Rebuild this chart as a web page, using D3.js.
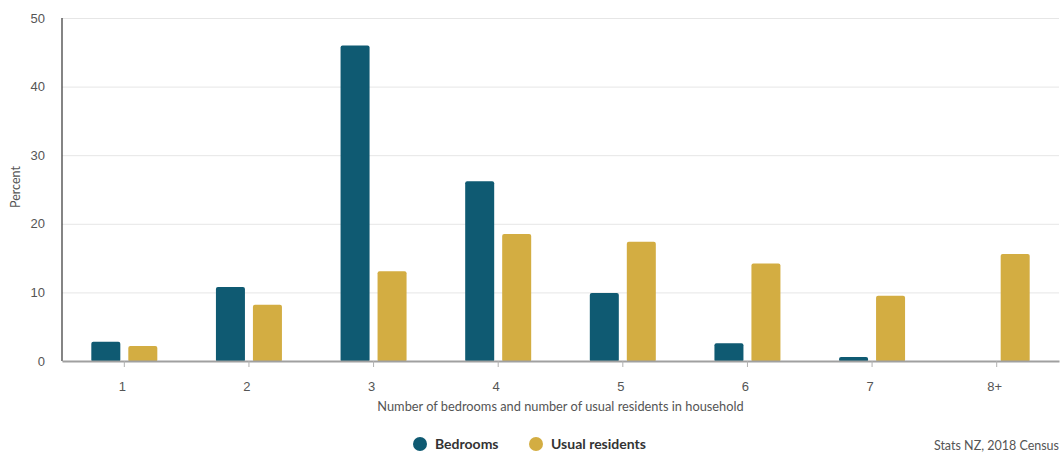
<!DOCTYPE html>
<html>
<head>
<meta charset="utf-8">
<script src="https://cdn.jsdelivr.net/npm/d3@7"></script>
<style>
  body { margin: 0; background: #fff; }
  svg { font-family: Lato, "Open Sans", sans-serif; }
  .grid line { stroke: #e6e6e6; }
  .grid path { display: none; }
  .tick text { fill: #555; }
</style>
</head>
<body>
<svg width="1061" height="454"></svg>
<script>
/*
Data
*/
var categories = ["1", "2", "3", "4", "5", "6", "7", "8+"];
var seriesNames = ["Bedrooms", "Usual residents"];
var bedrooms = [2.8, 10.8, 46.0, 26.2, 9.9, 2.6, 0.6, 0];
var residents = [2.2, 8.2, 13.1, 18.5, 17.4, 14.2, 9.5, 15.6];
var yTicks = [0, 10, 20, 30, 40, 50];
var colors = ["#0f5a72", "#d3ad42"];

var svg = d3.select("svg"),
    margin = {top: 18, right: 2, bottom: 93, left: 62},
    width = svg.attr("width") - margin.left - margin.right,
    height = svg.attr("height") - margin.top - margin.bottom,
    g = svg.append("g").attr("transform", "translate(" + margin.left + "," + margin.top + ")");

var xScale = d3.scaleBand().domain(categories).range([0, width]),
    yScale = d3.scaleLinear().domain([0, 50]).range([height, 0]),
    inner = d3.scaleBand().domain(seriesNames).range([-33, 33]).paddingInner(0.216);

// gridlines
g.append("g")
    .attr("class", "grid")
    .call(d3.axisLeft(yScale).tickValues(yTicks).tickSize(-width).tickFormat(""));

// y axis labels
var yAxis = g.append("g")
    .call(d3.axisLeft(yScale).tickValues(yTicks).tickSize(0).tickPadding(17));
yAxis.select(".domain").remove();
yAxis.selectAll("text").style("font-size", "13px");

// bars
var rows = categories.map(function(c, i) {
    return {cat: c, values: [
        {name: seriesNames[0], value: bedrooms[i]},
        {name: seriesNames[1], value: residents[i]}
    ]};
});

var group = g.selectAll(".cat")
    .data(rows)
    .enter().append("g")
    .attr("class", "cat")
    .attr("transform", function(d) { return "translate(" + (xScale(d.cat) + xScale.bandwidth() / 2) + ",0)"; });

group.selectAll("rect")
    .data(function(d) { return d.values.filter(function(v) { return v.value > 0; }); })
    .enter().append("rect")
    .attr("x", function(d) { return inner(d.name); })
    .attr("width", inner.bandwidth())
    .attr("y", function(d) { return yScale(d.value); })
    .attr("height", function(d) { return height - yScale(d.value) + 1; })
    .attr("rx", 2)
    .style("fill", function(d) { return colors[seriesNames.indexOf(d.name)]; });

// left axis line
g.append("line")
    .attr("x1", 0).attr("x2", 0)
    .attr("y1", 0).attr("y2", height)
    .style("stroke", "#333").style("stroke-width", 1.2);

// x axis
var xAxis = g.append("g")
    .attr("transform", "translate(0," + height + ")")
    .call(d3.axisBottom(xScale).tickSize(6).tickSizeOuter(0).tickPadding(15));
xAxis.select(".domain").style("stroke", "#a0a0a0").style("stroke-width", 2);
xAxis.selectAll(".tick line").style("stroke", "#b0b0b0");
xAxis.selectAll(".tick text").attr("dx", -2).style("font-size", "13px");

// axis titles
svg.append("text")
    .attr("x", margin.left + width / 2)
    .attr("y", 411)
    .attr("text-anchor", "middle")
    .style("font-size", "12.8px")
    .style("fill", "#555")
    .text("Number of bedrooms and number of usual residents in household");

svg.append("text")
    .attr("transform", "translate(20,187)rotate(-90)")
    .attr("text-anchor", "middle")
    .style("font-size", "12.5px")
    .style("fill", "#555")
    .text("Percent");

// legend
var legendX = [420, 536];
var legend = svg.selectAll(".legend")
    .data(seriesNames)
    .enter().append("g")
    .attr("class", "legend")
    .attr("transform", function(d, i) { return "translate(" + legendX[i] + ",444)"; });

legend.append("circle")
    .attr("r", 7)
    .style("fill", function(d, i) { return colors[i]; });

legend.append("text")
    .attr("x", 15)
    .attr("dy", "0.35em")
    .style("font-size", "14px")
    .style("font-weight", "bold")
    .style("fill", "#333")
    .text(function(d) { return d; });

// source
svg.append("text")
    .attr("x", 1059)
    .attr("y", 450)
    .attr("text-anchor", "end")
    .style("font-size", "12.5px")
    .style("fill", "#555")
    .text("Stats NZ, 2018 Census");
</script>
</body>
</html>
